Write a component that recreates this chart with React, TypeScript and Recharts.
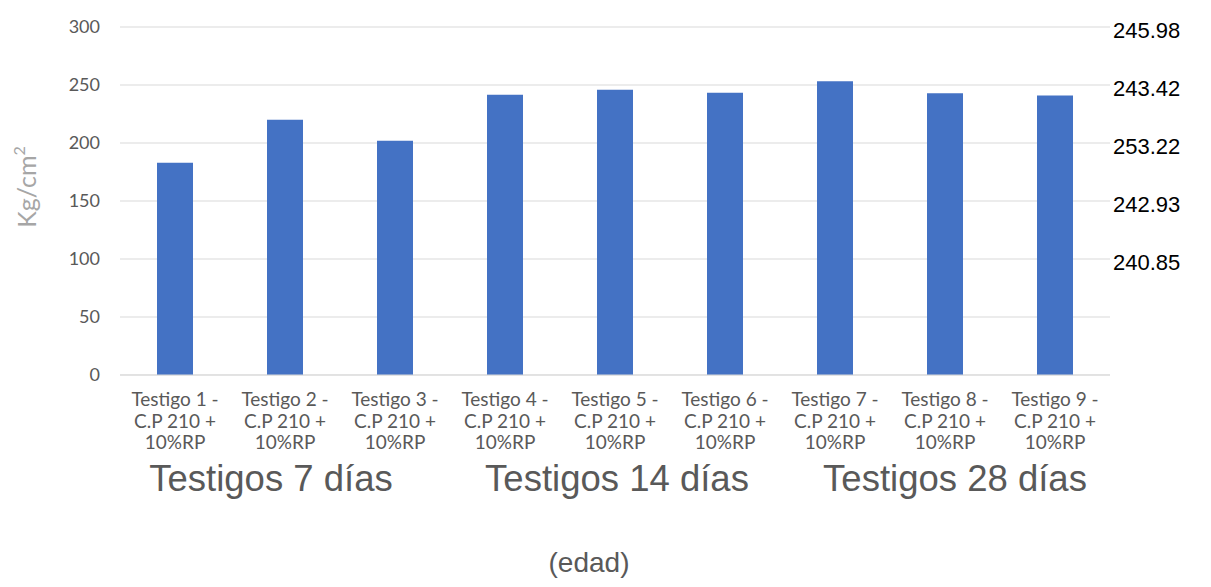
import React from "react";
import {
  BarChart,
  Bar,
  XAxis,
  YAxis,
  CartesianGrid,
  Label,
  ReferenceLine,
} from "recharts";

// Ensayos de compresión, testigos C.P 210 + 10%RP
const categories = [
  "Testigo 1",
  "Testigo 2",
  "Testigo 3",
  "Testigo 4",
  "Testigo 5",
  "Testigo 6",
  "Testigo 7",
  "Testigo 8",
  "Testigo 9",
];
const resistencia = [183, 220, 202, 241.5, 245.98, 243.42, 253.22, 242.93, 240.85];
const leftTicks = [0, 50, 100, 150, 200, 250, 300];
const rightTicks = [300, 250, 200, 150, 100];
const rightLabels = ["245.98", "243.42", "253.22", "242.93", "240.85"];
const groupLabels = ["Testigos 7 días", "Testigos 14 días", "Testigos 28 días"];
const groupShift = [-14, 2, 10];

const data = categories.map((c, i) => ({ name: c, value: resistencia[i] }));

const GRAY = "#595959";

const CategoryTick = (props: any) => {
  const { x, y, payload, index } = props;
  const lines = [`${payload.value} -`, "C.P 210 +", "10%RP"];
  const g = Math.floor(index / 3);
  const group = index % 3 === 1 ? groupLabels[g] : null;
  return (
    <g>
      <text
        x={x}
        y={y}
        textAnchor="middle"
        fill={GRAY}
        fontSize={19}
        fontFamily="Lato, 'Open Sans', sans-serif"
      >
        {lines.map((l, k) => (
          <tspan key={k} x={x} dy={k === 0 ? 23 : 21.5}>
            {l}
          </tspan>
        ))}
      </text>
      {group && (
        <text
          x={x + groupShift[g]}
          y={y + 108}
          textAnchor="middle"
          fill={GRAY}
          fontSize={36.5}
          fontFamily="'Liberation Sans', Arial, sans-serif"
        >
          {group}
        </text>
      )}
    </g>
  );
};

const RightLabel = (props: any) => {
  const { viewBox, value } = props;
  return (
    <text
      x={viewBox.x + viewBox.width + 3}
      y={viewBox.y + 11}
      fill="#000"
      fontSize={22}
      fontFamily="'Liberation Sans', Arial, sans-serif"
    >
      {value}
    </text>
  );
};

export default function App() {
  return (
    <div style={{ position: "absolute", left: 0, top: 0, background: "#fff" }}>
      <BarChart
        width={1211}
        height={587}
        data={data}
        margin={{ top: 27, right: 101, left: 0, bottom: 0 }}
        barSize={36}
      >
        <CartesianGrid stroke="#d9d9d9" vertical={false} />
        <XAxis
          dataKey="name"
          height={212}
          interval={0}
          tick={<CategoryTick />}
          tickLine={false}
          axisLine={{ stroke: "#d9d9d9" }}
        >
          <Label
            content={({ viewBox }: any) => (
              <text
                x={viewBox.x + viewBox.width / 2 - 26}
                y={572}
                textAnchor="middle"
                fill={GRAY}
                fontSize={28}
                fontFamily="'Liberation Sans', Arial, sans-serif"
              >
                (edad)
              </text>
            )}
          />
        </XAxis>
        <YAxis
          width={120}
          domain={[0, 300]}
          ticks={leftTicks}
          tickLine={false}
          axisLine={false}
          tickMargin={14}
          tick={{ fill: GRAY, fontSize: 18, fontFamily: "Lato, sans-serif" }}
        >
          <Label
            content={({ viewBox }: any) => {
              const cx = 30;
              const cy = viewBox.y + viewBox.height / 2 - 14;
              return (
                <text
                  x={cx}
                  y={cy}
                  transform={`rotate(-90 ${cx} ${cy})`}
                  textAnchor="middle"
                  dominantBaseline="middle"
                  fill="#a6a6a6"
                  fontSize={25}
                  fontFamily="Lato, sans-serif"
                >
                  Kg/cm
                  <tspan dy={-9} fontSize={16}>
                    2
                  </tspan>
                </text>
              );
            }}
          />
        </YAxis>
        {rightTicks.map((t, i) => (
          <ReferenceLine
            key={t}
            y={t}
            stroke="none"
            label={<RightLabel value={rightLabels[i]} />}
          />
        ))}
        <Bar dataKey="value" fill="#4472c4" isAnimationActive={false} />
      </BarChart>
    </div>
  );
}
